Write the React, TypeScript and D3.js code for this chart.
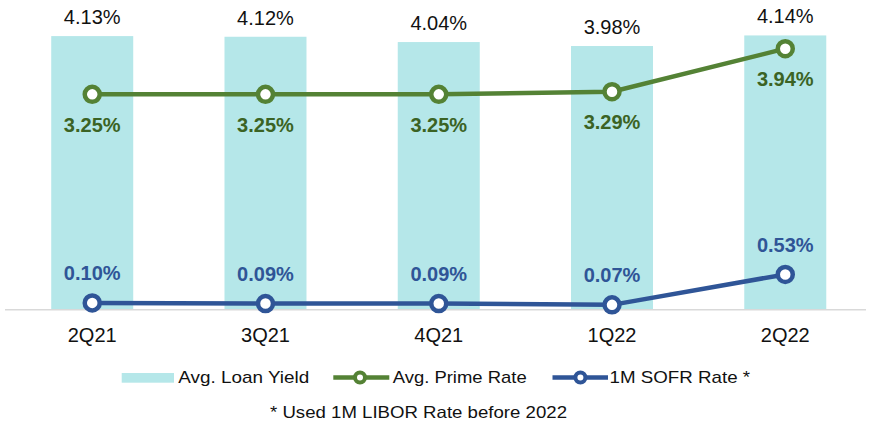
import React from "react";
import * as d3 from "d3";

const categories = ["2Q21", "3Q21", "4Q21", "1Q22", "2Q22"];
const loanYield = [4.13, 4.12, 4.04, 3.98, 4.14];
const primeRate = [3.25, 3.25, 3.25, 3.29, 3.94];
const sofrRate = [0.10, 0.09, 0.09, 0.07, 0.53];
const legendLabels = ["Avg. Loan Yield", "Avg. Prime Rate", "1M SOFR Rate *"];
const footnote = "* Used 1M LIBOR Rate before 2022";

const W = 871;
const H = 424;
const BAR = "#b5e7e9";
const GREEN = "#548235";
const GREEN_TXT = "#3b6324";
const BLUE = "#2f5597";
const FONT = "'Liberation Sans', Arial, sans-serif";

export default function App() {
  const x = d3.scaleBand<string>().domain(categories).range([5.6, 871.9]).padding(0);
  const y = d3.scaleLinear().domain([0, 4.5]).range([309.5, 11.6]);
  const bw = 82;
  const cx = (c: string) => (x(c) as number) + x.bandwidth() / 2;

  const line = d3
    .line<number>()
    .x((_, i) => cx(categories[i]))
    .y((d) => y(d));

  const ly = 377.5;

  return (
    <svg
      width={W}
      height={H}
      style={{ position: "absolute", left: 0, top: 0, display: "block", background: "#fff" }}
      fontFamily={FONT}
    >
      {/* bars */}
      {categories.map((c, i) => (
        <rect
          key={"b" + c}
          x={cx(c) - bw / 2}
          y={y(loanYield[i])}
          width={bw}
          height={y(0) - y(loanYield[i])}
          fill={BAR}
        />
      ))}
      {/* baseline */}
      <line x1={5} x2={866} y1={309.8} y2={309.8} stroke="#d9d9d9" strokeWidth={1.5} />
      {/* bar labels */}
      {categories.map((c, i) => (
        <text
          key={"bl" + c}
          x={cx(c)}
          y={y(loanYield[i]) - 12}
          textAnchor="middle"
          fontSize={20}
          fill="#111"
        >
          {loanYield[i].toFixed(2)}%
        </text>
      ))}
      {/* prime line */}
      <path d={line(primeRate) || ""} fill="none" stroke={GREEN} strokeWidth={4.5} />
      {primeRate.map((v, i) => (
        <circle
          key={"pc" + i}
          cx={cx(categories[i])}
          cy={y(v)}
          r={7.5}
          fill="#fff"
          stroke={GREEN}
          strokeWidth={4.5}
        />
      ))}
      {primeRate.map((v, i) => (
        <text
          key={"pl" + i}
          x={cx(categories[i])}
          y={y(v) + 37.5}
          textAnchor="middle"
          fontSize={20}
          fontWeight="bold"
          fill={GREEN_TXT}
        >
          {v.toFixed(2)}%
        </text>
      ))}
      {/* sofr line */}
      <path d={line(sofrRate) || ""} fill="none" stroke={BLUE} strokeWidth={4.5} />
      {sofrRate.map((v, i) => (
        <circle
          key={"sc" + i}
          cx={cx(categories[i])}
          cy={y(v)}
          r={7.5}
          fill="#fff"
          stroke={BLUE}
          strokeWidth={4.5}
        />
      ))}
      {sofrRate.map((v, i) => (
        <text
          key={"sl" + i}
          x={cx(categories[i])}
          y={y(v) - 22.5}
          textAnchor="middle"
          fontSize={20}
          fontWeight="bold"
          fill={BLUE}
        >
          {v.toFixed(2)}%
        </text>
      ))}
      {/* x axis labels */}
      {categories.map((c) => (
        <text key={"x" + c} x={cx(c)} y={341.5} textAnchor="middle" fontSize={20} fill="#111">
          {c}
        </text>
      ))}
      {/* legend */}
      <g>
        <rect x={121.7} y={373} width={52.3} height={9.7} fill={BAR} />
        <text x={178.3} y={383} fontSize={17} fill="#111" textLength={131} lengthAdjust="spacingAndGlyphs">
          {legendLabels[0]}
        </text>
        <line x1={333.3} x2={389.3} y1={ly} y2={ly} stroke={GREEN} strokeWidth={4.5} />
        <circle cx={360} cy={ly} r={5} fill="#fff" stroke={GREEN} strokeWidth={4} />
        <text x={392.7} y={383} fontSize={17} fill="#111" textLength={134} lengthAdjust="spacingAndGlyphs">
          {legendLabels[1]}
        </text>
        <line x1={552.5} x2={608} y1={ly} y2={ly} stroke={BLUE} strokeWidth={4.5} />
        <circle cx={580.4} cy={ly} r={5} fill="#fff" stroke={BLUE} strokeWidth={4} />
        <text x={609.6} y={383} fontSize={17} fill="#111" textLength={140.5} lengthAdjust="spacingAndGlyphs">
          {legendLabels[2]}
        </text>
      </g>
      <text x={270} y={418} fontSize={16.5} fill="#111" textLength={297} lengthAdjust="spacingAndGlyphs">
        {footnote}
      </text>
    </svg>
  );
}
